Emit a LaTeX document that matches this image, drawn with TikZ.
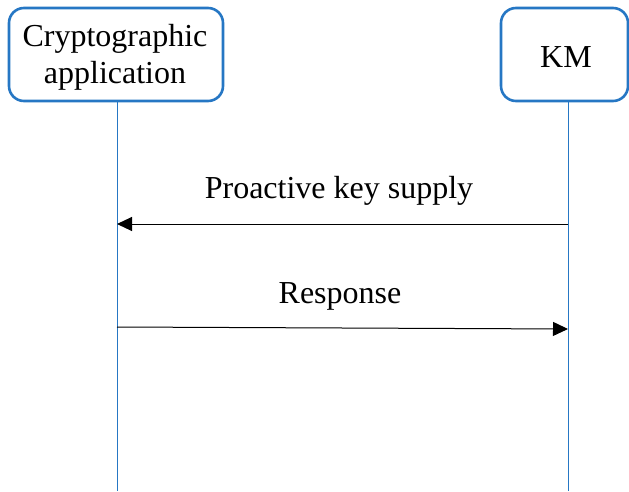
\documentclass[tikz,border=0pt]{standalone}
\usepackage{fontspec}
\setmainfont{Liberation Serif}
\usetikzlibrary{arrows.meta}
\definecolor{lineblue}{RGB}{38,119,196}
\tikzset{
  actor/.style={draw=lineblue, line width=2.6pt, rounded corners=15pt, fill=white,
    align=center, inner sep=0pt, font=\fontsize{32}{37}\selectfont},
  lifeline/.style={draw=lineblue, line width=1pt},
  msg/.style={draw=black, line width=1pt, -{Triangle[length=15pt,width=14pt]}},
  lbl/.style={font=\fontsize{32}{37}\selectfont, inner sep=0pt}
}
\begin{document}
\begin{tikzpicture}[x=1pt,y=-1pt]
\useasboundingbox (0,0) rectangle (629,492);
\node[actor, minimum width=214pt, minimum height=93pt] (app) at (116,54.5) {};
\node[font=\fontsize{32}{37}\selectfont, align=center, inner sep=0pt] (apptext) at (115,57) {Cryptographic\\application};
\node[actor, minimum width=127pt, minimum height=93pt] (km) at (564.5,54.5) {};
\node[font=\fontsize{32}{37}\selectfont, inner sep=0pt] (kmtext) at (566,57) {KM};
\coordinate (append) at (117,491);
\coordinate (kmend) at (568,491);
\draw[lifeline] (app.south -| append) -- (append);
\draw[lifeline] (km.south -| kmend) -- (kmend);
\coordinate (a1s) at (568,224);
\coordinate (a1e) at (117,224);
\draw[msg] (a1s) -- (a1e);
\node[lbl] (l1) at (339,191) {Proactive key supply};
\coordinate (a2s) at (117,327);
\coordinate (a2e) at (568,329);
\draw[msg] (a2s) -- (a2e);
\node[lbl] (l2) at (340,296) {Response};
\end{tikzpicture}
\end{document}
